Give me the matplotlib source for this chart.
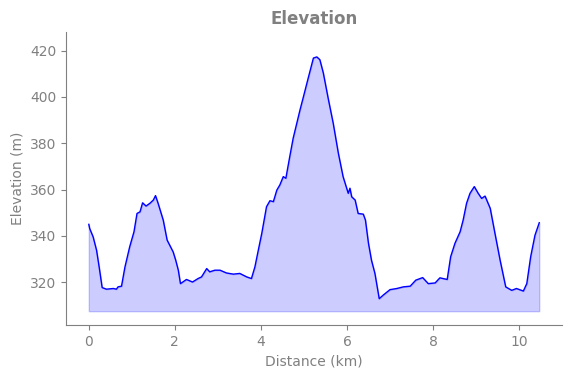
import matplotlib.pyplot as plt

# Distance (km) and elevation (m)
distance = [0.0, 0.02, 0.1, 0.18, 0.24, 0.31, 0.41, 0.57, 0.64, 0.68, 0.76, 0.84, 0.95,
            1.05, 1.12, 1.19, 1.25, 1.33, 1.42, 1.5, 1.55, 1.61, 1.73, 1.82, 1.96, 2.02,
            2.08, 2.13, 2.27, 2.41, 2.54, 2.62, 2.74, 2.81, 2.93, 3.05, 3.2, 3.36, 3.51,
            3.67, 3.78, 3.86, 3.94, 4.02, 4.13, 4.21, 4.29, 4.37, 4.44, 4.52, 4.58, 4.67,
            4.75, 4.91, 4.98, 5.1, 5.22, 5.3, 5.37, 5.45, 5.57, 5.68, 5.8, 5.91, 6.03,
            6.07, 6.11, 6.19, 6.26, 6.38, 6.43, 6.5, 6.57, 6.65, 6.75, 6.84, 7.0, 7.16,
            7.31, 7.47, 7.6, 7.76, 7.89, 8.05, 8.16, 8.33, 8.41, 8.51, 8.63, 8.7, 8.78,
            8.86, 8.96, 9.05, 9.13, 9.21, 9.33, 9.44, 9.56, 9.69, 9.83, 9.94, 10.1,
            10.18, 10.27, 10.37, 10.47]
elevation = [345, 343.2, 339.6, 333.8, 326.6, 317.7, 317, 317.3, 317, 318, 318.3, 326.6,
             335.3, 341.8, 349.7, 350.4, 354.3, 352.9, 354.1, 355.5, 357.4, 354.1, 346.8,
             338.2, 333.1, 329.5, 325.2, 319.4, 321.2, 320.1, 321.6, 322.3, 325.9, 324.5,
             325.2, 325.2, 324, 323.5, 323.8, 322.3, 321.6, 326.6, 333.9, 341.1, 352.6,
             355.2, 354.8, 359.8, 362, 365.6, 364.9, 374.2, 382.2, 394.5, 399.5, 408.2,
             416.8, 417.3, 416.1, 410.4, 398.8, 388.7, 375.7, 365.6, 358.4, 360.6, 356.9,
             355.5, 349.7, 349.4, 346.8, 336.8, 329.5, 323.8, 312.9, 314.4, 316.8, 317.3,
             318, 318.3, 320.9, 322, 319.4, 319.7, 321.9, 321.2, 331, 336.8, 341.8, 346.8,
             354.1, 358.4, 361.3, 358.4, 356.2, 357.2, 351.9, 341.1, 329.5, 318, 316.5,
             317.3, 316.2, 319.4, 331, 340.3, 345.7]
base = 307.5

fig = plt.figure(figsize=(5.71, 3.78), dpi=100)
ax = fig.add_axes([0.1156, 0.140, 0.868, 0.775])

ax.fill_between(distance, elevation, base, color='blue', alpha=0.2)
ax.plot(distance, elevation, color='blue', linewidth=1)

ax.set_xlim(-0.53, 10.99)
ax.set_ylim(301.5, 428)
ax.set_xticks([0, 2, 4, 6, 8, 10])
ax.set_yticks([320, 340, 360, 380, 400, 420])

ax.set_title('Elevation', color='gray', fontsize=12, fontweight='bold')
ax.set_xlabel('Distance (km)', color='gray')
ax.set_ylabel('Elevation (m)', color='gray')
ax.tick_params(colors='gray')
for s in ['top', 'right']:
    ax.spines[s].set_visible(False)
for s in ['left', 'bottom']:
    ax.spines[s].set_color('gray')

plt.savefig('out.png')
